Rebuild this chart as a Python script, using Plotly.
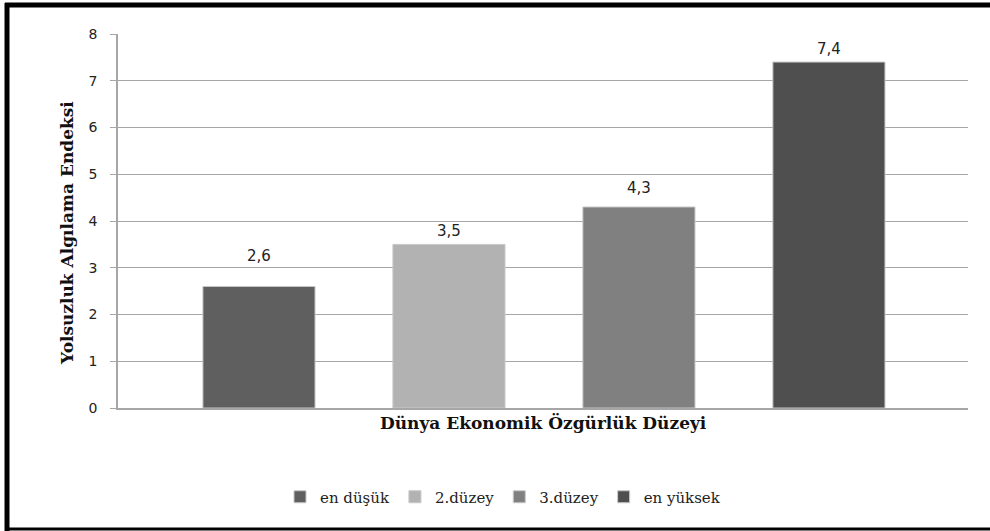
import plotly.graph_objects as go

categories = ["en düşük", "2.düzey", "3.düzey", "en yüksek"]
values = [2.6, 3.5, 4.3, 7.4]
colors = ["#5f5f5f", "#b2b2b2", "#808080", "#4f4f4f"]
y_ticks = [0, 1, 2, 3, 4, 5, 6, 7, 8]

# pixel gap between each bar top and its value label (style only)
label_gap = [21, 4, 10, 4]

W, H = 990, 531
L, R, T, B = 118, 968, 34, 408

fig = go.Figure()
for cat, val, col in zip(categories, values, colors):
    fig.add_trace(go.Bar(
        x=[cat], y=[val], name=cat,
        marker=dict(color=col, line=dict(color="#c8c8c8", width=1)),
        width=0.59,
        hoverinfo="skip",
    ))

def px(x):
    return (x - L) / (R - L)

def py(y):
    return (B - y) / (B - T)

annotations = []
for cat, val, gap in zip(categories, values, label_gap):
    annotations.append(dict(
        x=cat, y=val, xref="x", yref="y",
        text=f"{val:.1f}".replace(".", ","),
        showarrow=False, yanchor="bottom", yshift=gap - 2,
        font=dict(family="DejaVu Sans", size=15, color="#222"),
    ))

annotations += [
    dict(text="<b>Yolsuzluk Algılama Endeksi</b>", xref="paper", yref="paper",
         x=px(55), y=py(233), textangle=-90, showarrow=False,
         font=dict(family="DejaVu Serif", size=17, color="#111")),
    dict(text="<b>Dünya Ekonomik Özgürlük Düzeyi</b>", xref="paper", yref="paper",
         x=px(543), y=py(435), showarrow=False,
         font=dict(family="DejaVu Serif", size=17, color="#111")),
]

shapes = [
    dict(type="line", xref="paper", yref="paper", x0=px(7), x1=px(7), y0=py(3), y1=py(531), line=dict(color="black", width=5)),
    dict(type="line", xref="paper", yref="paper", x0=px(5), x1=px(995), y0=py(5), y1=py(5), line=dict(color="black", width=5)),
    dict(type="line", xref="paper", yref="paper", x0=px(5), x1=px(995), y0=py(529), y1=py(529), line=dict(color="black", width=3)),
]

fig.update_layout(
    width=W, height=H,
    margin=dict(l=L, r=W - R, t=T, b=H - B),
    paper_bgcolor="white", plot_bgcolor="white",
    barmode="group",
    shapes=shapes,
    annotations=annotations,
    showlegend=True,
    legend=dict(orientation="h", x=px(503), xanchor="center", y=py(497), yanchor="middle",
                font=dict(family="DejaVu Serif", size=15, color="#222"),
                itemwidth=30, traceorder="normal"),
    xaxis=dict(type="category", categoryorder="array", categoryarray=categories,
               range=[-0.742, 3.732], showticklabels=False, showgrid=False,
               showline=True, linecolor="#a6a6a6", linewidth=1.5, ticks="", zeroline=False),
    yaxis=dict(range=[0, 8], tickvals=y_ticks, showgrid=True, gridcolor="#a6a6a6", gridwidth=1.2,
               showline=True, linecolor="#a6a6a6", linewidth=1.5, ticks="outside", ticklen=6,
               tickcolor="#a6a6a6", zeroline=False,
               tickfont=dict(family="DejaVu Sans", size=14, color="#222"), ticklabelstandoff=10),
)

fig.write_html("out.html", config={"displayModeBar": False},
               post_script="document.body.style.margin='0';document.body.style.padding='0';")
